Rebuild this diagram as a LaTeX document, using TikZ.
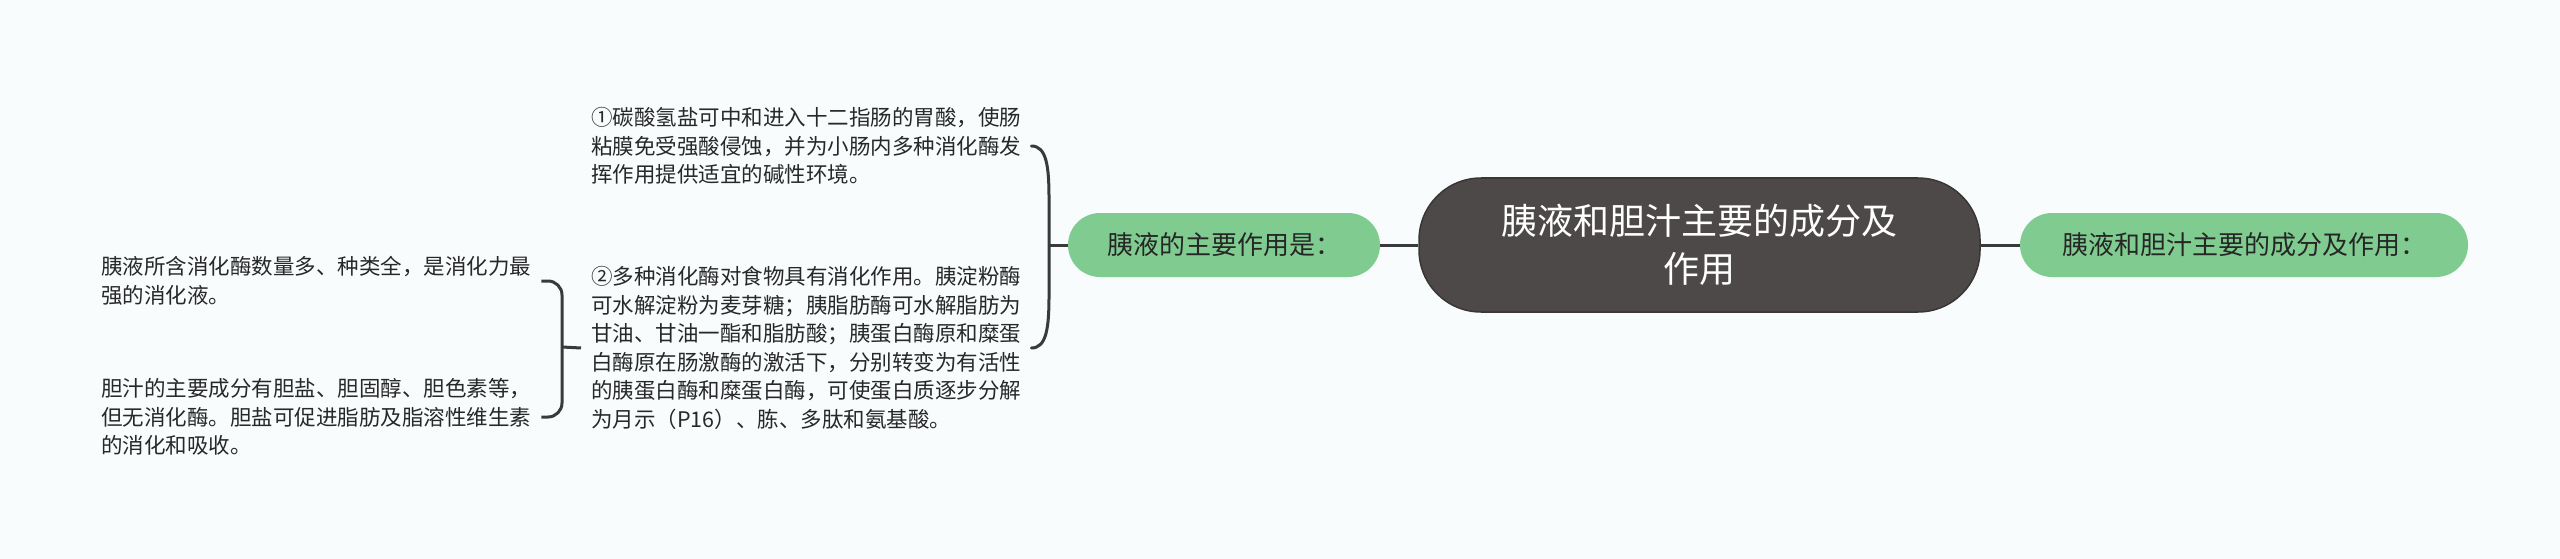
\documentclass[tikz,border=0pt]{standalone}
\usepackage{fontspec}
\setmainfont{Noto Sans CJK SC}
\usetikzlibrary{calc}
\definecolor{bgc}{RGB}{248,252,253}
\definecolor{darkfill}{RGB}{78,73,73}
\definecolor{darkline}{RGB}{58,54,54}
\definecolor{greenfill}{RGB}{128,204,144}
\definecolor{leafc}{RGB}{40,40,40}
\definecolor{connc}{RGB}{58,58,58}
\begin{document}
\begin{tikzpicture}[x=1pt,y=-1pt,
  leaf/.style={align=left, text width=430pt, inner xsep=10pt, inner ysep=4pt,
    text=leafc, font=\fontsize{21.5}{28.5}\selectfont},
  greennode/.style={fill=greenfill, draw=none, rounded corners=32pt,
    minimum height=64pt, inner sep=0pt, text=black!85,
    font=\fontsize{26}{32}\selectfont},
  rootnode/.style={fill=darkfill, draw=darkline, line width=1.5pt,
    rounded corners=62pt, minimum width=561pt, minimum height=134pt,
    inner sep=0pt, align=center, text=white,
    font=\fontsize{36}{48}\selectfont},
  conn/.style={draw=connc, line width=3pt}]
\fill[bgc] (0,0) rectangle (2560,559);
\useasboundingbox (0,0) rectangle (2560,559);

\node[rootnode] (ctr) at (1699.5,245) {胰液和胆汁主要的成分及\\作用};
\node[greennode, minimum width=312pt] (lg) at (1224,245) {胰液的主要作用是：};
\node[greennode, minimum width=448pt] (rg) at (2244,245) {胰液和胆汁主要的成分及作用：};

\node[leaf, anchor=west] (n1) at (581,146) {①碳酸氢盐可中和进入十二指肠的胃酸，使肠\\粘膜免受强酸侵蚀，并为小肠内多种消化酶发\\挥作用提供适宜的碱性环境。};
\node[leaf, anchor=west] (n2) at (581,348) {②多种消化酶对食物具有消化作用。胰淀粉酶\\可水解淀粉为麦芽糖；胰脂肪酶可水解脂肪为\\甘油、甘油一酯和脂肪酸；胰蛋白酶原和糜蛋\\白酶原在肠激酶的激活下，分别转变为有活性\\的胰蛋白酶和糜蛋白酶，可使蛋白质逐步分解\\为月示（P16）、胨、多肽和氨基酸。};
\node[leaf, anchor=west] (n3) at (91,281) {胰液所含消化酶数量多、种类全，是消化力最\\强的消化液。};
\node[leaf, anchor=west] (n4) at (91,417) {胆汁的主要成分有胆盐、胆固醇、胆色素等，\\但无消化酶。胆盐可促进脂肪及脂溶性维生素\\的消化和吸收。};

\draw[conn] (ctr.west) -- (lg.east);
\draw[conn] (ctr.east) -- (rg.west);

\coordinate (j1) at (1049,245);
\draw[conn] (lg.west) -- (j1);
\draw[conn, line cap=round] (n1.east) .. controls ($(n1.east)+(15,0)$) and ($(j1|-n1.east)+(0,20)$) .. ($(j1|-n1.east)+(0,52)$)
  -- ($(j1|-n2.east)+(0,-52)$)
  .. controls ($(j1|-n2.east)+(0,-20)$) and ($(n2.east)+(15,0)$) .. (n2.east);

\coordinate (j2) at (562,347);
\draw[conn] (n2.west) -- (j2);
\draw[conn, rounded corners=14pt] (n3.east) -| (j2) |- (n4.east);
\end{tikzpicture}
\end{document}
